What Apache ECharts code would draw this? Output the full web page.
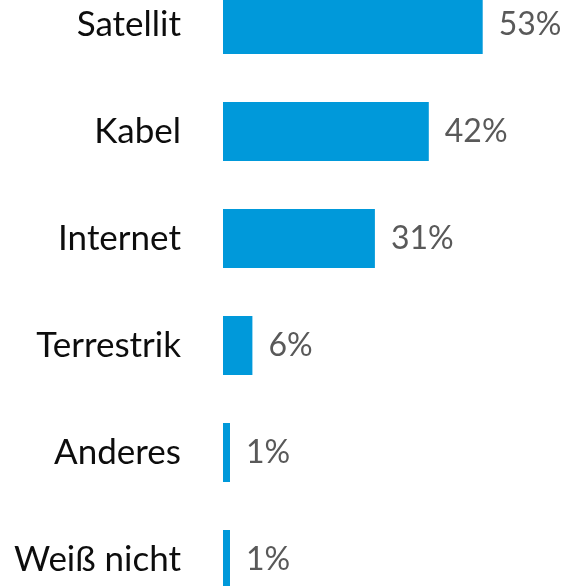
<!DOCTYPE html>
<html lang="de">
<head>
    <meta charset="UTF-8">
    <title>Empfangsweg</title>
    <script src="https://cdn.jsdelivr.net/npm/echarts@6/dist/echarts.min.js"></script>
    <style>
        html, body { margin: 0; padding: 0; background: #fff; }
    </style>
</head>
<body>
<div id="main" style="width:568px;height:586px;"></div>
<script type="text/javascript">
    var categories = ['Satellit', 'Kabel', 'Internet', 'Terrestrik', 'Anderes', 'Weiß nicht'];
    var shares = [53, 42, 31, 6, 1, 1];

    var myChart = echarts.init(document.getElementById('main'));
    var option = {
        animation: false,
        textStyle: { fontFamily: 'Lato' },
        grid: {
            left: 223,
            width: 490,
            top: -29,
            bottom: -27,
            outerBoundsMode: 'none'
        },
        xAxis: {
            type: 'value',
            min: 0,
            max: 100,
            show: false
        },
        yAxis: {
            type: 'category',
            inverse: true,
            data: categories,
            axisLine: { show: false },
            axisTick: { show: false },
            axisLabel: {
                margin: 42,
                fontSize: 35,
                color: '#0d0d0d',
                fontFamily: 'Lato'
            }
        },
        series: [
            {
                type: 'bar',
                data: shares,
                barWidth: 59,
                barMinHeight: 7,
                itemStyle: { color: '#0099DA' },
                label: {
                    show: true,
                    position: 'right',
                    distance: 16,
                    formatter: '{c}%',
                    fontSize: 32,
                    color: '#595959',
                    fontFamily: 'Lato'
                }
            }
        ]
    };
    myChart.setOption(option);
</script>
</body>
</html>
